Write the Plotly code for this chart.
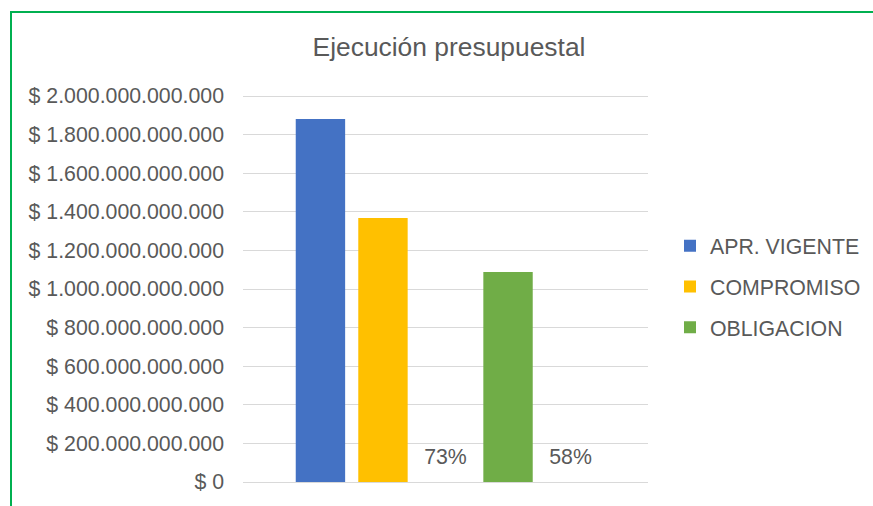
import plotly.graph_objects as go

# ---- data ----
series = ["APR. VIGENTE", "COMPROMISO", "OBLIGACION"]
values = [1.881e12, 1.368e12, 1.088e12]
colors = ["#4472C4", "#FFC000", "#70AD47"]
pct_labels = ["73%", "58%"]
category = [""]

W, H = 873, 506
ML, MR, MT, MB = 243, 225, 93, 24
TXT = "#595959"
FONT = "Liberation Sans, Arial, sans-serif"
YMAX = 2e12

pw = W - ML - MR
ph = H - MT - MB
HEAD = 3  # px of headroom so the top gridline is not clipped
YTOP = YMAX * ph / (ph - HEAD)

def px_x(p):
    return (p - ML) / pw
def px_y(p):
    return (H - MB - p) / ph

# label lift above the axis, expressed in axis units (styling only)
LIFT = 10 / ph * YTOP

fig = go.Figure()

def bar(name, val, color):
    fig.add_trace(go.Bar(x=category, y=[val], name=name, marker_color=color,
                         marker_line_width=0, legendgroup=name))

def pct(label):
    fig.add_trace(go.Bar(x=category, y=[0], base=LIFT, text=[label],
                         textposition="outside", cliponaxis=False,
                         marker_color="rgba(0,0,0,0)", marker_line_width=0,
                         textfont=dict(size=21.3, color=TXT, family=FONT),
                         showlegend=False, hoverinfo="skip"))

bar(series[0], values[0], colors[0])
bar(series[1], values[1], colors[1])
pct(pct_labels[0])
bar(series[2], values[2], colors[2])
pct(pct_labels[1])

fig.update_layout(
    width=W, height=H,
    margin=dict(l=ML, r=MR, t=MT, b=MB, pad=0, autoexpand=False),
    paper_bgcolor="white", plot_bgcolor="white",
    separators=",.",
    font=dict(family=FONT, size=21.3, color=TXT),
    barmode="group", bargap=0.228, bargroupgap=0.21,
    title=dict(text="Ejecución presupuestal", xref="container", x=449 / W,
               xanchor="center", yref="container", y=1 - 47 / H,
               yanchor="middle",
               font=dict(size=26.4, color=TXT, family=FONT)),
    xaxis=dict(range=[-0.5, 0.5], showticklabels=False, showgrid=False,
               zeroline=False, showline=False, fixedrange=True,
               automargin=False),
    yaxis=dict(range=[0, YTOP], tick0=0, dtick=2e11, tickprefix="$ ",
               tickformat=",d",
               showgrid=True, gridcolor="#D9D9D9", gridwidth=1.3,
               zeroline=True, zerolinecolor="#D9D9D9", zerolinewidth=1.3,
               showline=False, ticks="", ticklabelstandoff=18,
               automargin=False,
               tickfont=dict(size=21.3, color=TXT, family=FONT)),
    legend=dict(x=px_x(670), xanchor="left", y=px_y(287), yanchor="middle",
                traceorder="grouped", tracegroupgap=10,
                font=dict(size=21.3, color=TXT, family=FONT),
                bgcolor="rgba(0,0,0,0)"),
    shapes=[dict(type="rect", xref="paper", yref="paper",
                 x0=px_x(11), x1=px_x(W + 20), y0=px_y(H + 20), y1=px_y(12),
                 line=dict(color="#00B050", width=2), layer="above")],
)

fig.write_html("out.html", config={"displayModeBar": False},
               post_script="document.body.style.margin='0';"
                           "document.body.style.overflow='hidden';")
